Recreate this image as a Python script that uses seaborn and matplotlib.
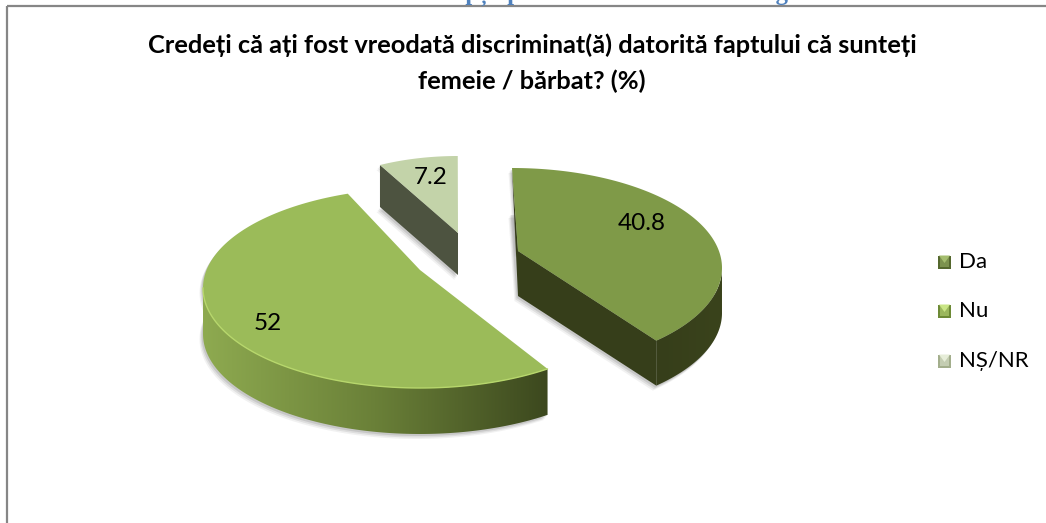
import matplotlib
matplotlib.use("Agg")
import matplotlib.pyplot as plt
import numpy as np
import seaborn as sns
from matplotlib.patches import Polygon, Rectangle

sns.set_theme(style="white")
plt.rcParams["font.family"] = ["Lato", "Noto Sans", "DejaVu Sans"]

categories = ["Da", "Nu", "NȘ/NR"]
values = [40.8, 52, 7.2]
labels = ["40.8", "52", "7.2"]
title = "Credeți că ați fost vreodată discriminat(ă) datorită faptului că sunteți\nfemeie / bărbat? (%)"
caption = "Graficul nr. 5: Percepții privind discriminarea de gen"

top_colors = ["#7f9a48", "#9bbb59", "#c3d3a9"]
cut_colors = ["#363e1a", "#3d4a1e", "#4d5340"]
side_ramps = [["#363e1a", "#3a431c"], ["#8eaa50", "#6a8038", "#3c481e"], ["#4d5340", "#4d5340"]]
legend_tops = ["#a4bd6e", "#c9e585", "#e6edd8"]
legend_bottoms = ["#55682e", "#6d8a36", "#a3ae8c"]

# exploded slices drawn in pixel space: ellipse, apex and the angle the slice opens at
layout = [
    dict(cx=512, cy=268, a=210, b=100, apex=(518, 251), start=0, gain=0.93, depth=45, label=(642, 223)),
    dict(cx=420, cy=288, a=217, b=100, apex=(420, 270), start=144, gain=1.05, depth=46, label=(268, 323)),
    dict(cx=458, cy=245, a=178, b=89, apex=(458, 233), start=334, gain=1.0, depth=42, label=(431, 177)),
]


def arc_points(s, sweep):
    theta = np.radians(np.linspace(s["start"], s["start"] + sweep * s["gain"], 160))
    return np.column_stack([s["cx"] + s["a"] * np.sin(theta), s["cy"] - s["b"] * np.cos(theta)])


def gradient_fill(ax, points, ramp):
    patch = Polygon(points, closed=True, facecolor="none", edgecolor="none")
    ax.add_patch(patch)
    cmap = sns.blend_palette(ramp, as_cmap=True)
    x0, x1 = points[:, 0].min(), points[:, 0].max()
    y0, y1 = points[:, 1].min(), points[:, 1].max()
    im = ax.imshow(np.linspace(0, 1, 256)[None, :], extent=(x0, x1, y1, y0), aspect="auto", cmap=cmap, zorder=3)
    im.set_clip_path(patch)


fig, ax = plt.subplots(figsize=(10.46, 5.23), dpi=100)
fig.subplots_adjust(0, 0, 1, 1)

for i, (v, s) in enumerate(zip(values, layout)):
    sweep = v / sum(values) * 360
    arc = arc_points(s, sweep)
    apex = np.array(s["apex"], dtype=float)
    drop = np.array([0, s["depth"]])
    top = np.vstack([apex, arc])

    # soft grey shadow under the slice
    for off, alpha in [(5, 0.08), (3.5, 0.12), (2, 0.16)]:
        ax.add_patch(Polygon(top + drop + [-off * 0.7, off], facecolor="#555555", edgecolor="none", alpha=alpha, zorder=1))
        ax.add_patch(Polygon(top + [-off * 0.7, off], facecolor="#555555", edgecolor="none", alpha=alpha, zorder=1))

    # rim: part of the arc that faces the viewer
    screen = np.linspace(s["start"], s["start"] + sweep * s["gain"], 160)
    front = np.cos(np.radians(screen)) < 0.02
    if front.any():
        rim = arc[front]
        gradient_fill(ax, np.vstack([rim, (rim + drop)[::-1]]), side_ramps[i])

    # flat cut faces
    if i == 0:
        ax.add_patch(Polygon(np.array([apex, arc[-1], arc[-1] + drop, apex + drop]), facecolor=cut_colors[i], edgecolor="none", zorder=4))
        ax.add_patch(Polygon(np.array([arc[0], apex, apex + drop]), facecolor=cut_colors[i], edgecolor="none", zorder=2))
    elif i == 2:
        ax.add_patch(Polygon(np.array([apex, arc[0], arc[0] + drop, apex + drop]), facecolor=cut_colors[i], edgecolor="none", zorder=4))

    ax.add_patch(Polygon(top, facecolor=top_colors[i], edgecolor="none", zorder=5))
    if i == 1:
        ax.plot(arc[front][:, 0], arc[front][:, 1], color="#b7d76c", lw=1, zorder=6)
    ax.text(*s["label"], labels[i], ha="center", va="center", fontsize=17.5, color="black", zorder=7)

# legend
for i, (name, y) in enumerate(zip(categories, [262, 311, 361])):
    x0, x1, y0, y1 = 938, 951, y - 6.5, y + 6.5
    xm, ym = (x0 + x1) / 2, (y0 + y1) / 2
    mid = sns.blend_palette([legend_tops[i], legend_bottoms[i]], 3)[1]
    ax.add_patch(Rectangle((x0, y0), x1 - x0, y1 - y0, facecolor=legend_bottoms[i], edgecolor="none"))
    ax.add_patch(Rectangle((x0 + 2, y0 + 1), x1 - x0 - 4, y1 - y0 - 3, facecolor=mid, edgecolor="none"))
    ax.add_patch(Polygon([(x0 + 1, y0), (x1 - 1, y0), (xm, ym + 1)], facecolor=legend_tops[i], edgecolor="none"))
    ax.text(959, y, name, ha="left", va="center", fontsize=16, color="black")

# chart frame, only left and top show in the crop
ax.plot([6.5, 6.5], [5.5, 523], color="#868686", lw=1.6, solid_capstyle="butt")
ax.plot([6.5, 1046], [5.5, 5.5], color="#868686", lw=1.6, solid_capstyle="butt")

ax.text(532, 63, title, ha="center", va="center", fontsize=18.3, fontweight="bold", color="black", linespacing=1.62)
ax.text(531, 0.2, caption, ha="center", va="baseline", fontsize=17.8, fontweight="bold", color="#4f81bd",
        family="Liberation Serif", clip_on=True)

ax.set_xlim(0, 1046)
ax.set_ylim(523, 0)
ax.axis("off")
fig.savefig("out.png", dpi=100, facecolor="white")
